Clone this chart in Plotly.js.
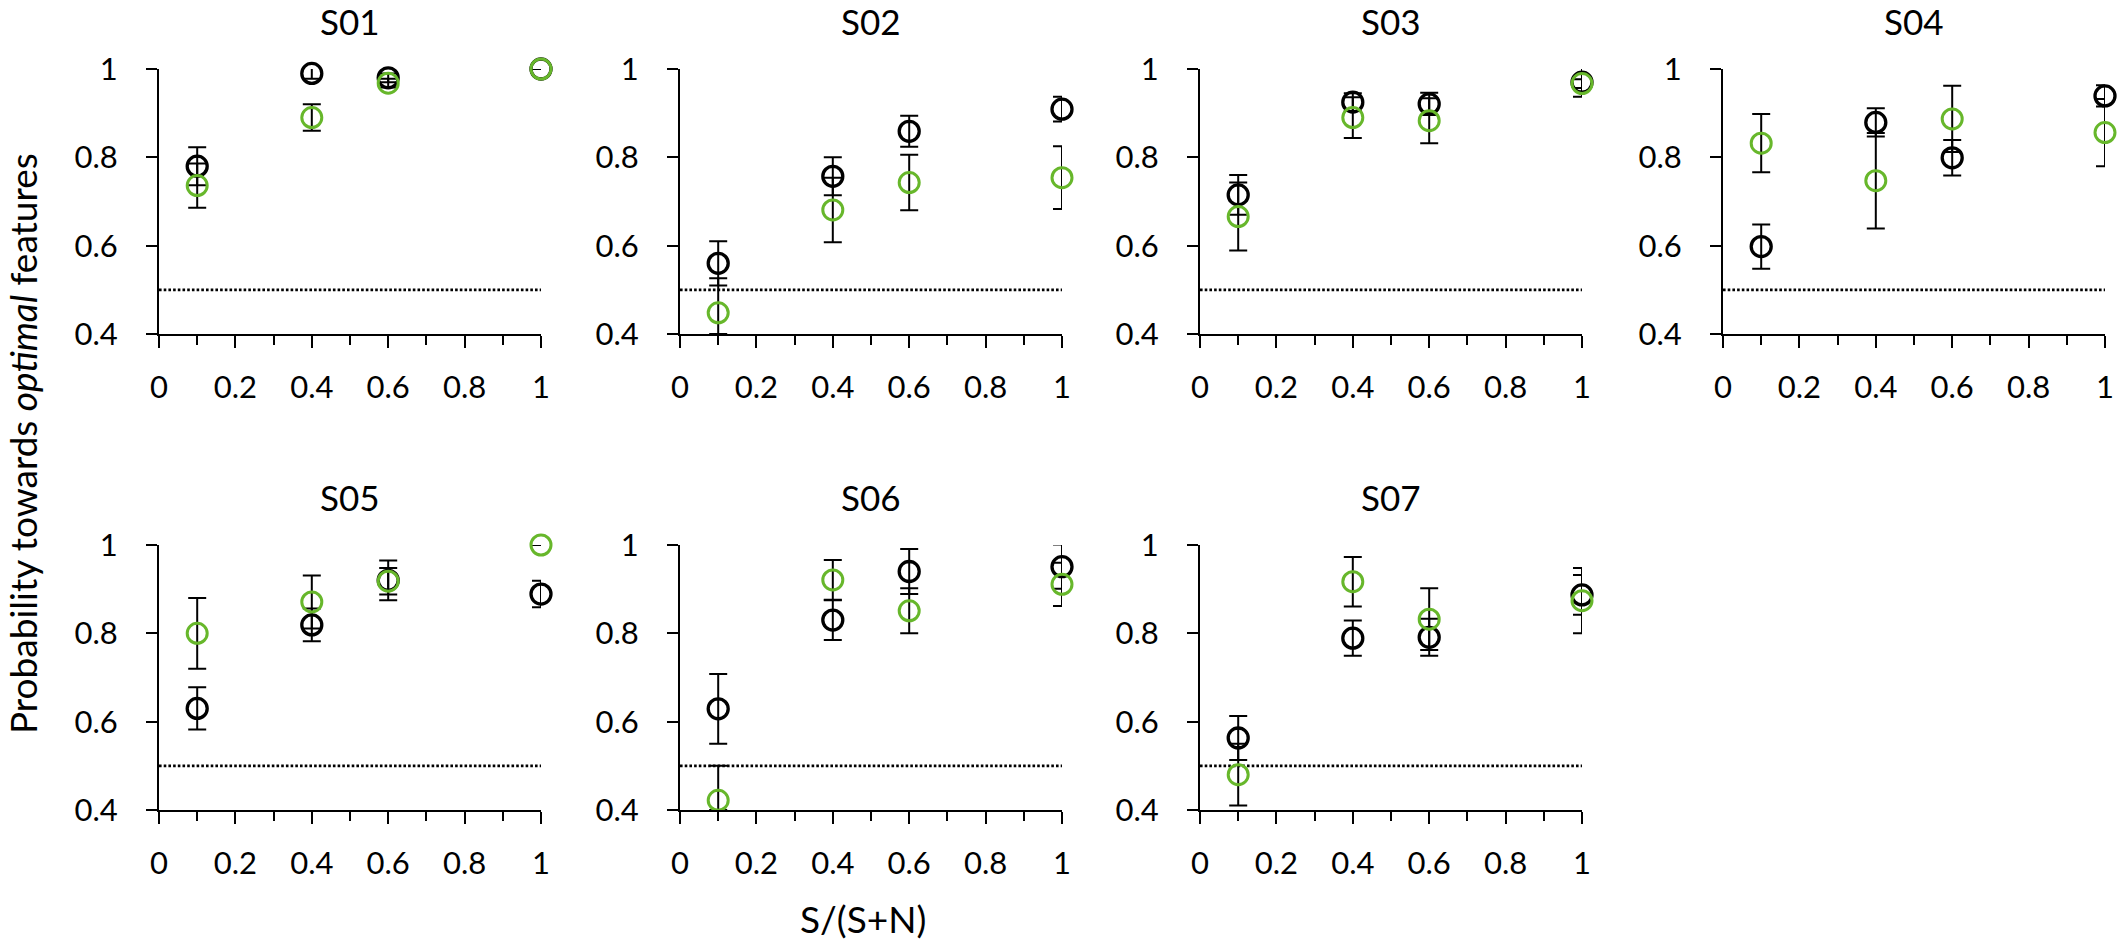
<!DOCTYPE html>
<html>
<head>
<meta charset="utf-8">
<script src="https://cdn.plot.ly/plotly-3.0.1.min.js"></script>
<style>
html, body { margin: 0; padding: 0; background: #fff; }
#chart { width: 2123px; height: 943px; }
</style>
</head>
<body>
<div id="chart"></div>
<script>
// values, one row per subject, columns follow snr
let subjects = ['S01', 'S02', 'S03', 'S04', 'S05', 'S06', 'S07'];
let snr = [0.1, 0.4, 0.6, 1];
let chanceX = [0, 1];
let chanceY = [0.5, 0.5];

let blackMeans = [
    [0.780, 0.990, 0.980, 1.000],
    [0.560, 0.757, 0.859, 0.909],
    [0.715, 0.925, 0.921, 0.970],
    [0.598, 0.879, 0.799, 0.939],
    [0.630, 0.819, 0.920, 0.889],
    [0.629, 0.830, 0.940, 0.951],
    [0.563, 0.789, 0.791, 0.887]
];
let blackErrs = [
    [0.043, 0.012, 0.010, 0.000],
    [0.050, 0.043, 0.035, 0.028],
    [0.045, 0.020, 0.025, 0.033],
    [0.050, 0.032, 0.040, 0.024],
    [0.048, 0.037, 0.045, 0.030],
    [0.079, 0.045, 0.051, 0.050],
    [0.050, 0.040, 0.042, 0.045]
];

let greenMeans = [
    [0.736, 0.890, 0.968, 1.000],
    [0.448, 0.681, 0.743, 0.754],
    [0.666, 0.890, 0.883, 0.967],
    [0.832, 0.747, 0.887, 0.856],
    [0.800, 0.871, 0.918, 1.000],
    [0.422, 0.921, 0.851, 0.911],
    [0.480, 0.917, 0.832, 0.874]
];
let greenErrsUp = [
    [0.050, 0.030, 0.010, 0.000],
    [0.078, 0.073, 0.063, 0.071],
    [0.077, 0.046, 0.051, 0.010],
    [0.066, 0.108, 0.075, 0.076],
    [0.080, 0.060, 0.030, 0.000],
    [0.078, 0.045, 0.051, 0.049],
    [0.070, 0.056, 0.070, 0.074]
];
// lower whiskers stop at the axis where they run off the plot
let greenErrsDown = [
    [0.050, 0.030, 0.010, 0.000],
    [0.048, 0.073, 0.063, 0.071],
    [0.077, 0.046, 0.051, 0.010],
    [0.066, 0.108, 0.075, 0.076],
    [0.080, 0.060, 0.030, 0.000],
    [0.022, 0.045, 0.051, 0.049],
    [0.070, 0.056, 0.070, 0.074]
];

let W = 2123, H = 943;
let colLeft = [159, 680, 1200, 1723];
let rowTop = [69, 545];
let panelW = 382, panelH = 265;
let green = '#67b72b';
let font = 'Lato, "Open Sans", sans-serif';

let data = [];
let layout = {
    width: W,
    height: H,
    margin: { l: 0, r: 0, t: 0, b: 0 },
    paper_bgcolor: '#fff',
    plot_bgcolor: '#fff',
    showlegend: false,
    font: { family: font, size: 31, color: '#000' },
    annotations: []
};

for (let i = 0; i < subjects.length; ++i) {
    let n = i === 0 ? '' : String(i + 1);
    let col = i % 4;
    let row = Math.floor(i / 4);
    let x0 = colLeft[col] / W;
    let x1 = (colLeft[col] + panelW) / W;
    let y1 = 1 - rowTop[row] / H;
    let y0 = 1 - (rowTop[row] + panelH) / H;

    layout['xaxis' + n] = {
        domain: [x0, x1],
        anchor: 'y' + n,
        range: [0, 1],
        showgrid: false,
        zeroline: false,
        showline: true,
        linecolor: '#000',
        linewidth: 2,
        ticks: 'outside',
        ticklen: 12,
        tickwidth: 2,
        tickcolor: '#000',
        tickmode: 'array',
        tickvals: [0, 0.2, 0.4, 0.6, 0.8, 1],
        ticktext: ['0', '0.2', '0.4', '0.6', '0.8', '1'],
        minor: { tickmode: 'array', tickvals: [0.1, 0.3, 0.5, 0.7, 0.9], ticks: 'outside', ticklen: 9, tickwidth: 2, tickcolor: '#000' },
        ticklabelstandoff: 13,
        tickfont: { family: font, size: 31, color: '#000' },
        fixedrange: true
    };
    layout['yaxis' + n] = {
        domain: [y0, y1],
        anchor: 'x' + n,
        range: [0.4, 1],
        showgrid: false,
        zeroline: false,
        showline: true,
        linecolor: '#000',
        linewidth: 2,
        ticks: 'outside',
        ticklen: 11,
        tickwidth: 2,
        tickcolor: '#000',
        tickmode: 'array',
        tickvals: [0.4, 0.6, 0.8, 1],
        ticktext: ['0.4', '0.6', '0.8', '1'],
        ticklabelstandoff: 22,
        tickfont: { family: font, size: 31, color: '#000' },
        fixedrange: true
    };

    layout.annotations.push({
        text: subjects[i],
        xref: 'paper', yref: 'paper',
        x: (x0 + x1) / 2,
        y: 1 - (rowTop[row] - 48) / H,
        xanchor: 'center', yanchor: 'middle',
        showarrow: false,
        font: { family: font, size: 35, color: '#000' }
    });

    data.push({
        x: chanceX,
        y: chanceY,
        xaxis: 'x' + n, yaxis: 'y' + n,
        mode: 'lines',
        line: { color: '#000', width: 2.6, dash: '2.6px,2.1px' },
        hoverinfo: 'skip'
    });

    data.push({
        x: snr,
        y: blackMeans[i],
        xaxis: 'x' + n, yaxis: 'y' + n,
        mode: 'markers',
        cliponaxis: false,
        marker: { symbol: 'circle-open', size: 20, color: '#000', line: { width: 3.3 } },
        error_y: { type: 'data', array: blackErrs[i], color: '#000', thickness: 2, width: 9 }
    });

    data.push({
        x: snr,
        y: greenMeans[i],
        xaxis: 'x' + n, yaxis: 'y' + n,
        mode: 'markers',
        cliponaxis: false,
        marker: { symbol: 'circle-open', size: 20, color: green, line: { width: 3 } },
        error_y: {
            type: 'data', symmetric: false,
            array: greenErrsUp[i], arrayminus: greenErrsDown[i],
            color: '#000', thickness: 2, width: 9
        }
    });
}

layout.annotations.push({
    text: 'Probability towards <i>optimal</i> features',
    xref: 'paper', yref: 'paper',
    x: 23 / W, y: 1 - 444 / H,
    xanchor: 'center', yanchor: 'middle',
    textangle: -90,
    showarrow: false,
    font: { family: font, size: 37, color: '#000' }
});

layout.annotations.push({
    text: 'S/(S+N)',
    xref: 'paper', yref: 'paper',
    x: 863 / W, y: 1 - 918 / H,
    xanchor: 'center', yanchor: 'middle',
    showarrow: false,
    font: { family: font, size: 37, color: '#000' }
});

Plotly.newPlot('chart', data, layout, { displayModeBar: false, staticPlot: true });
</script>
</body>
</html>
